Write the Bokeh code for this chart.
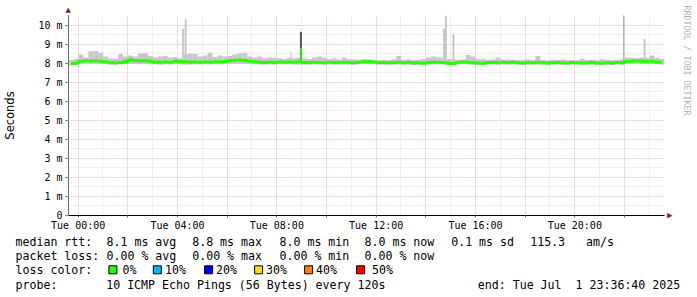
from bokeh.plotting import figure
from bokeh.models import Title, FixedTicker, Range1d, ColumnDataSource
from bokeh.layouts import column
from bokeh.core.properties import value
from bokeh.embed import file_html
from bokeh.resources import INLINE

# ---------------- data ----------------
# time in hours relative to Tue 2025-07-01 00:00; window ends Tue 23:36:40
END_H = 23 + 36 / 60 + 40 / 3600
START_H = END_H - 24.0
BUCKET_H = 0.2   # each bucket 12 minutes

median_ms = [
    7.98, 7.99, 8.10, 8.12, 8.11, 8.12, 8.10, 8.06, 8.02, 8.02,
    8.03, 8.08, 8.18, 8.14, 8.12, 8.13, 8.10, 8.05, 8.05, 8.06,
    8.05, 8.10, 8.08, 8.07, 8.05, 8.06, 8.05, 8.06, 8.05, 8.07,
    8.07, 8.08, 8.12, 8.15, 8.16, 8.14, 8.10, 8.07, 8.04, 8.03,
    8.04, 8.03, 8.06, 8.05, 8.06, 8.05, 8.07, 8.03, 8.03, 8.04,
    8.03, 8.02, 8.04, 8.03, 8.03, 8.04, 8.03, 8.02, 8.05, 8.09,
    8.10, 8.06, 8.03, 8.03, 8.02, 8.03, 8.04, 8.02, 8.03, 8.01,
    8.02, 7.99, 8.03, 8.05, 8.04, 8.03, 7.99, 7.98, 8.05, 8.06,
    8.04, 8.02, 8.01, 7.99, 8.03, 8.03, 8.02, 8.04, 8.03, 8.05,
    8.02, 8.01, 8.03, 8.02, 8.04, 8.02, 8.00, 8.02, 8.03, 8.02,
    8.01, 8.03, 8.02, 8.00, 8.02, 8.03, 8.01, 8.00, 8.02, 8.01,
    8.03, 8.02, 8.08, 8.10, 8.11, 8.10, 8.09, 8.10, 8.06, 8.05,
]

smoke_hi_ms = [
    8.18, 8.22, 8.45, 8.30, 8.62, 8.63, 8.55, 8.35, 8.25, 8.22,
    8.48, 8.35, 8.40, 8.35, 8.50, 8.52, 8.38, 8.30, 8.35, 8.38,
    8.30, 8.32, 8.25, 8.45, 8.50, 8.48, 8.35, 8.40, 8.55, 8.32,
    8.40, 8.35, 8.38, 8.45, 8.52, 8.55, 8.35, 8.30, 8.35, 8.25,
    8.30, 8.28, 8.25, 8.22, 8.30, 8.25, 8.30, 8.25, 8.22, 8.30,
    8.35, 8.28, 8.22, 8.25, 8.20, 8.30, 8.22, 8.20, 8.18, 8.20,
    8.18, 8.16, 8.15, 8.18, 8.16, 8.20, 8.37, 8.18, 8.20, 8.16,
    8.18, 8.22, 8.30, 8.35, 8.30, 8.28, 8.22, 8.20, 8.18, 8.20,
    8.42, 8.35, 8.20, 8.22, 8.18, 8.20, 8.30, 8.18, 8.20, 8.18,
    8.16, 8.18, 8.20, 8.16, 8.37, 8.18, 8.15, 8.18, 8.16, 8.20,
    8.18, 8.16, 8.15, 8.22, 8.16, 8.18, 8.15, 8.20, 8.18, 8.16,
    8.18, 8.20, 8.30, 8.28, 8.25, 8.30, 8.28, 8.40, 8.28, 8.22,
]

smoke_lo_ms = [
    7.88, 7.90, 7.95, 7.94, 7.95, 7.96, 7.95, 7.94, 7.93, 7.92,
    7.94, 7.95, 7.96, 7.95, 7.94, 7.95, 7.94, 7.93, 7.92, 7.94,
    7.93, 7.95, 7.94, 7.92, 7.93, 7.94, 7.93, 7.94, 7.93, 7.95,
    7.94, 7.95, 7.96, 7.97, 7.96, 7.96, 7.95, 7.94, 7.93, 7.92,
    7.93, 7.92, 7.94, 7.93, 7.94, 7.93, 7.92, 7.93, 7.92, 7.93,
    7.92, 7.92, 7.93, 7.92, 7.92, 7.93, 7.92, 7.92, 7.94, 7.96,
    7.96, 7.94, 7.92, 7.92, 7.91, 7.92, 7.93, 7.91, 7.92, 7.90,
    7.91, 7.90, 7.92, 7.93, 7.93, 7.92, 7.90, 7.89, 7.93, 7.94,
    7.93, 7.91, 7.90, 7.89, 7.92, 7.92, 7.91, 7.93, 7.92, 7.93,
    7.91, 7.90, 7.92, 7.91, 7.92, 7.91, 7.89, 7.91, 7.92, 7.91,
    7.90, 7.92, 7.91, 7.89, 7.91, 7.92, 7.90, 7.89, 7.91, 7.90,
    7.92, 7.91, 7.95, 7.96, 7.97, 7.96, 7.95, 7.96, 7.94, 7.93,
]

# isolated smoke outliers (time in hours, max rtt in ms)
spike_t = [4.23, 4.33, 8.57, 8.97, 14.73, 14.81, 15.11, 21.97, 22.81]
spike_top_ms = [9.80, 10.30, 8.60, 9.65, 9.82, 10.50, 9.53, 10.60, 9.26]
spike_base_ms = [8.0, 8.0, 8.0, 8.0, 8.0, 8.0, 8.0, 8.0, 8.0]

# median peak
peak_t = [8.97]
peak_ms = [8.80]

y_ticks = [0, 1, 2, 3, 4, 5, 6, 7, 8, 9, 10]
y_labels = ["0", "1 m", "2 m", "3 m", "4 m", "5 m", "6 m", "7 m", "8 m", "9 m", "10 m"]
x_ticks = [0, 2, 4, 6, 8, 10, 12, 14, 16, 18, 20, 22]
x_labels = ["Tue 00:00", "", "Tue 04:00", "", "Tue 08:00", "", "Tue 12:00", "",
            "Tue 16:00", "", "Tue 20:00", ""]
Y_MAX = 10.5

NB = "\u00a0"
legend_row1 = ["median rtt:", "8.1 ms avg", "8.8 ms max", "8.0 ms min", "8.0 ms now",
               "0.1 ms sd", "115.3 " + NB + NB + "am/s"]
legend_row2 = ["packet loss:", "0.00 % avg", "0.00 % max", "0.00 % min", "0.00 % now"]
legend_row3_head = "loss color:"
loss_names = ["0%", "10%", "20%", "30%", "40%", "50%"]
legend_row4 = ["probe:", "10 ICMP Echo Pings (56 Bytes) every 120s",
               "end: Tue Jul " + NB + "1 23:36:40 2025"]

# ---------------- style / layout ----------------
W = 697
MAIN_H, LEG_H = 233, 64
FL, FT, FW, FH = 66, 15, 600, 200
MONO = "DejaVu Sans Mono"
SMOKE = "#c8c8c8"
GREEN = "#26ff00"
ARROW = "#8b1a1a"
loss_colors = ["#26ff00", "#00b8ff", "#0000ff", "#ffde00", "#ff7f00", "#ff0000"]
spike_shade = ["#c8c8c8", "#c8c8c8", "#c0c0c0", "#555555", "#c8c8c8", "#c8c8c8",
               "#c8c8c8", "#a0a0a0", "#c8c8c8"]
spike_px = [2, 2, 1, 2, 2, 2, 2, 1, 2]

p = figure(width=W, height=MAIN_H, output_backend="svg", toolbar_location=None,
           x_range=Range1d(START_H, END_H), y_range=Range1d(0, Y_MAX),
           min_border_left=FL, min_border_right=W - FL - FW,
           min_border_top=FT, min_border_bottom=MAIN_H - FT - FH)
p.outline_line_color = None
p.background_fill_color = "white"
p.border_fill_color = "white"
p.frame_align = False

# axes & grids
half_steps = [i * 0.5 for i in range(0, 22)]
hours = [h for h in range(0, 24)]
yt = FixedTicker(ticks=y_ticks, minor_ticks=half_steps)
xt = FixedTicker(ticks=x_ticks, minor_ticks=hours)
p.yaxis.ticker = yt
p.xaxis.ticker = xt
p.ygrid.ticker = yt
p.xgrid.ticker = xt
p.yaxis.major_label_overrides = {t: l for t, l in zip(y_ticks, y_labels)}
p.xaxis.major_label_overrides = {t: l for t, l in zip(x_ticks, x_labels)}
for ax in (p.xaxis[0], p.yaxis[0]):
    ax.major_label_text_font = MONO
    ax.major_label_text_font_size = "10px"
    ax.major_label_text_color = "black"
    ax.major_tick_in = 0
    ax.minor_tick_in = 0
p.yaxis.major_tick_out = 3
p.yaxis.minor_tick_out = 1
p.yaxis.major_label_standoff = 3
p.yaxis.axis_line_color = "#707070"
p.yaxis.major_tick_line_color = "#707070"
p.yaxis.minor_tick_line_color = "#a0a0a0"
p.yaxis.axis_label = "Seconds"
p.yaxis.axis_label_text_font = "DejaVu Sans"
p.yaxis.axis_label_text_font_size = "11.5px"
p.yaxis.axis_label_text_font_style = "normal"
p.yaxis.axis_label_text_color = "black"
p.yaxis.axis_label_standoff = 18
p.xaxis.major_tick_out = 2
p.xaxis.minor_tick_out = 0
p.xaxis.major_label_standoff = 2
p.xaxis.axis_line_color = "black"
p.xaxis.major_tick_line_color = "#707070"

for g in (p.xgrid[0], p.ygrid[0]):
    g.grid_line_color = "#f0c4c4"
    g.grid_line_dash = "1 1"
    g.grid_line_width = 1
    g.minor_grid_line_color = "#e0e0e0"
    g.minor_grid_line_dash = "1 1"
    g.minor_grid_line_width = 1

# smoke
n = len(median_ms)
left = [START_H + i * BUCKET_H for i in range(n)]
right = [v + BUCKET_H for v in left]
center = [v + BUCKET_H / 2 for v in left]
src = ColumnDataSource(dict(left=left, right=right, center=center,
                            lo=smoke_lo_ms, hi=smoke_hi_ms, med=median_ms))
p.quad(left="left", right="right", bottom="lo", top="hi", source=src,
       fill_color=SMOKE, line_color=None)

hpx = (END_H - START_H) / FW
sp = ColumnDataSource(dict(
    l=[t - w * hpx / 2 for t, w in zip(spike_t, spike_px)],
    r=[t + w * hpx / 2 for t, w in zip(spike_t, spike_px)],
    b=spike_base_ms, t=spike_top_ms, c=spike_shade))
p.quad(left="l", right="r", bottom="b", top="t", fill_color="c", line_color=None, source=sp)

# median line
p.step(x="center", y="med", source=src, mode="center", line_color=GREEN, line_width=3)
p.quad(left=[t - 0.8 * hpx for t in peak_t], right=[t + 0.8 * hpx for t in peak_t],
       bottom=[8.05] * len(peak_t), top=peak_ms, fill_color=GREEN, line_color=None)

# axis arrows and watermark (side-panel titles)
p.add_layout(Title(text="\u25b2", align="left", offset=-3, standoff=4,
                   text_font="DejaVu Sans", text_font_size="7px",
                   text_color=ARROW, text_font_style="normal"), "above")
p.add_layout(Title(text="\u25b2", align="right", offset=-3, standoff=3,
                   text_font="DejaVu Sans", text_font_size="7px",
                   text_color=ARROW, text_font_style="normal"), "right")
p.add_layout(Title(text="RRDTOOL / TOBI OETIKER", align="left", offset=-10, standoff=8,
                   text_font=MONO, text_font_size="8.3px",
                   text_color="#b4b4b4", text_font_style="normal"), "right")

# ---------------- legend strip ----------------
leg = figure(width=W, height=LEG_H, output_backend="svg", toolbar_location=None,
             x_range=Range1d(0, W), y_range=Range1d(MAIN_H + LEG_H, MAIN_H),
             min_border=0, x_axis_type=None, y_axis_type=None)
leg.frame_align = False
leg.grid.visible = False
leg.outline_line_color = None
leg.background_fill_color = "white"
leg.border_fill_color = "white"

ROW_Y = [241, 255.3, 269.3, 284]
COL_X = [15, 106, 191.7, 279, 364, 450.7, 529.7]
BOX_X = [108.3, 152.7, 204, 254, 304, 356]
LOSS_TXT_X = [122, 164.5, 215.5, 265.5, 315.5, 371.5]
ROW4_X = [15, 105.7, 477.3]

tx, ty, tt = [], [], []
for c, s in zip(COL_X, legend_row1):
    tx.append(c); ty.append(ROW_Y[0]); tt.append(s)
for c, s in zip(COL_X, legend_row2):
    tx.append(c); ty.append(ROW_Y[1]); tt.append(s)
tx.append(COL_X[0]); ty.append(ROW_Y[2]); tt.append(legend_row3_head)
for c, s in zip(LOSS_TXT_X, loss_names):
    tx.append(c); ty.append(ROW_Y[2]); tt.append(s)
for c, s in zip(ROW4_X, legend_row4):
    tx.append(c); ty.append(ROW_Y[3]); tt.append(s)

leg.text(x=tx, y=ty, text=tt, text_font=value(MONO), text_font_size="11.6px",
         text_align="left", text_baseline="middle", text_color="black")
leg.rect(x=[b + 4.1 for b in BOX_X], y=[ROW_Y[2]] * len(BOX_X), width=8, height=8,
         fill_color=loss_colors, line_color="black", line_width=1)

layout = column(p, leg, spacing=0)
open("out.html", "w").write(file_html(layout, INLINE))
